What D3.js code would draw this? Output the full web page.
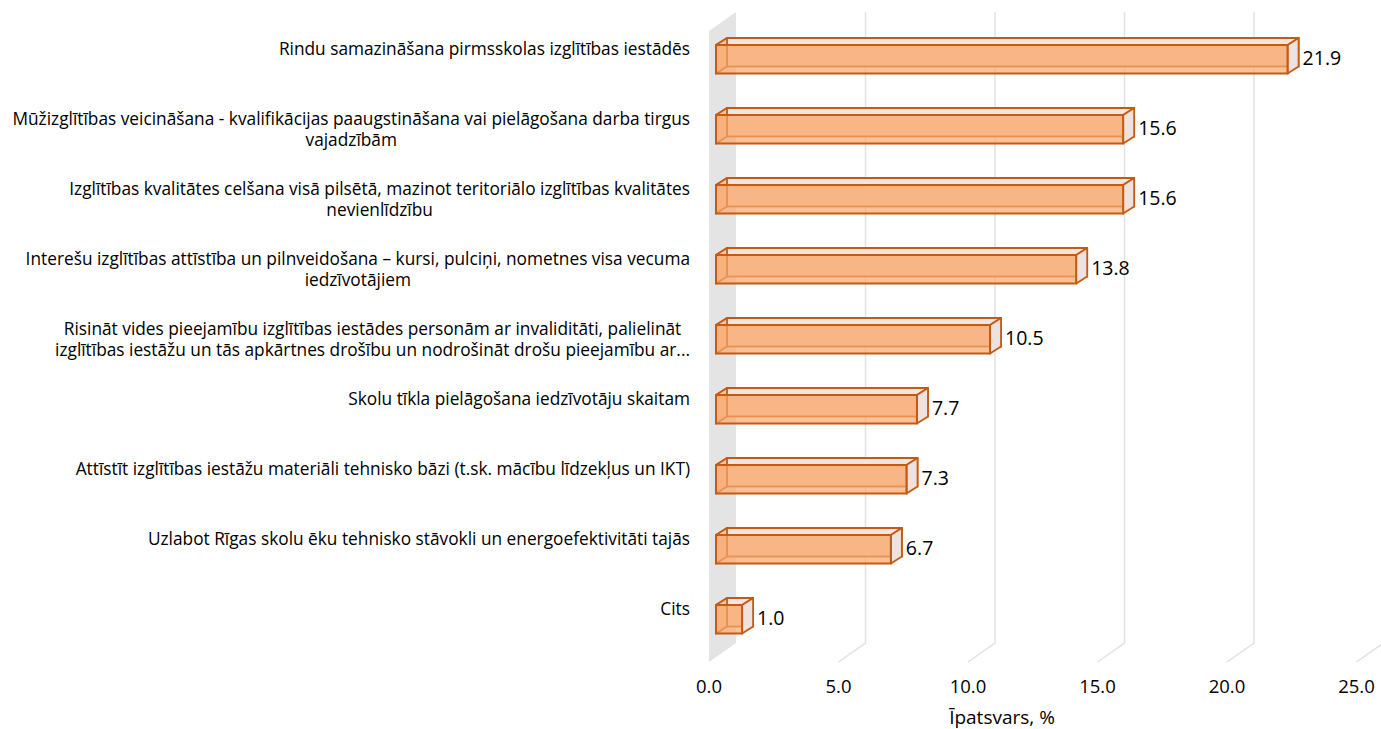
<!DOCTYPE html>
<html>
<head>
<meta charset="utf-8">
<script src="https://cdn.jsdelivr.net/npm/d3@7"></script>
<style>
  html, body { margin: 0; padding: 0; background: #fff; }
  svg { display: block; }
  text { font-family: "Open Sans", "Lato", sans-serif; fill: #000; }
</style>
</head>
<body>
<svg id="chart" width="1381" height="729"></svg>
<script>
const categories = [
  ["Rindu samazināšana pirmsskolas izglītības iestādēs"],
  ["Mūžizglītības veicināšana - kvalifikācijas paaugstināšana vai pielāgošana darba tirgus", "vajadzībām"],
  ["Izglītības kvalitātes celšana visā pilsētā, mazinot teritoriālo izglītības kvalitātes", "nevienlīdzību"],
  ["Interešu izglītības attīstība un pilnveidošana – kursi, pulciņi, nometnes visa vecuma", "iedzīvotājiem"],
  ["Risināt vides pieejamību izglītības iestādes personām ar invaliditāti, palielināt", "izglītības iestāžu un tās apkārtnes drošību un nodrošināt drošu pieejamību ar..."],
  ["Skolu tīkla pielāgošana iedzīvotāju skaitam"],
  ["Attīstīt izglītības iestāžu materiāli tehnisko bāzi (t.sk. mācību līdzekļus un IKT)"],
  ["Uzlabot Rīgas skolu ēku tehnisko stāvokli un energoefektivitāti tajās"],
  ["Cits"]
];
const values = [21.9, 15.6, 15.6, 13.8, 10.5, 7.7, 7.3, 6.7, 1.0];
const ticks = [0, 5, 10, 15, 20, 25];
const axisTitle = "Īpatsvars, %";

const svg = d3.select("#chart");
const ids = d3.range(categories.length);

// scales
const y = d3.scaleBand().domain(ids).range([17, 661.5]).paddingInner(0.593).paddingOuter(0.4);
const xBar = d3.scaleLinear().domain([0, 25]).range([716, 716 + 25 * 26.1]);
const xFront = d3.scaleLinear().domain([0, 25]).range([709, 709 + 25 * 25.9]);
const xBack = d3.scaleLinear().domain([0, 25]).range([736, 736 + 25 * 25.9]);

const floorFront = 662, floorBack = 643, wallTop = 12;
const depthDx = xBack(0) - xFront(0), depthDy = floorBack - floorFront;
const bdx = 11, bdy = -7;

// side wall
svg.append("polygon")
  .attr("points", [[xFront(0), wallTop - depthDy], [xBack(0), wallTop], [xBack(0), floorBack], [xFront(0), floorFront]].map(p => p.join(",")).join(" "))
  .attr("fill", "#E4E4E4");

// gridlines (back wall + floor)
const g = svg.append("g");
ticks.filter(t => t > 0).forEach(t => {
  g.append("path")
    .attr("d", `M${xBack(t)},${wallTop} L${xBack(t)},${floorBack} L${xBack(t) - depthDx},${floorFront}`)
    .attr("fill", "none").attr("stroke", "#E2E2E2").attr("stroke-width", 1.5);
});

// bars
const stroke = "#C55A11";
const bars = svg.append("g");
ids.forEach(i => {
  const x0 = xBar(0), x1 = xBar(values[i]);
  const t = y(i), b = y(i) + y.bandwidth();
  const grp = bars.append("g");
  // back face
  grp.append("rect").attr("x", x0 + bdx).attr("y", t + bdy).attr("width", x1 - x0).attr("height", b - t)
    .attr("fill", "#F3D3BD").attr("stroke", stroke).attr("stroke-width", 1.8);
  // top face
  grp.append("polygon").attr("points", [[x0, t], [x0 + bdx, t + bdy], [x1 + bdx, t + bdy], [x1, t]].map(p => p.join(",")).join(" "))
    .attr("fill", "#EFE6E2").attr("stroke", stroke).attr("stroke-width", 1.8).attr("stroke-linejoin", "round");
  // right face
  grp.append("polygon").attr("points", [[x1, t], [x1 + bdx, t + bdy], [x1 + bdx, b + bdy], [x1, b]].map(p => p.join(",")).join(" "))
    .attr("fill", "#EDE2DF").attr("stroke", stroke).attr("stroke-width", 1.8).attr("stroke-linejoin", "round");
  // left face
  grp.append("polygon").attr("points", [[x0, t], [x0 + bdx, t + bdy], [x0 + bdx, b + bdy], [x0, b]].map(p => p.join(",")).join(" "))
    .attr("fill", "#F6C4A0").attr("stroke", stroke).attr("stroke-width", 1.8).attr("stroke-linejoin", "round");
  // front face
  grp.append("rect").attr("x", x0).attr("y", t).attr("width", x1 - x0).attr("height", b - t)
    .attr("fill", "#F9A86E").attr("fill-opacity", 0.7).attr("stroke", stroke).attr("stroke-width", 2);
  // value label
  grp.append("text").attr("x", x1 + bdx + 4).attr("y", (t + b) / 2 + 1)
    .attr("dominant-baseline", "middle").attr("font-size", 19.5)
    .text(values[i].toFixed(1));
});

// category labels
const labels = svg.append("g");
ids.forEach(i => {
  const lines = categories[i];
  const txt = labels.append("text").attr("font-size", 17.3).attr("text-anchor", "middle");
  const ts = lines.map((ln, k) => txt.append("tspan").attr("y", y(i) + y.bandwidth() / 2 - 9 + 21.5 * k).attr("dominant-baseline", "middle").text(ln));
  const w = d3.max(ts.map(s => s.node().getComputedTextLength()));
  ts.forEach(s => s.attr("x", 690 - w / 2));
});

// x axis labels
svg.append("g").selectAll("text").data(ticks).join("text")
  .attr("x", d => xFront(d)).attr("y", 688).attr("text-anchor", "middle").attr("dominant-baseline", "middle")
  .attr("font-size", 18.5).text(d => d.toFixed(1));

svg.append("text").attr("x", 1002).attr("y", 719).attr("text-anchor", "middle").attr("dominant-baseline", "middle")
  .attr("font-size", 19).text(axisTitle);
</script>
</body>
</html>
